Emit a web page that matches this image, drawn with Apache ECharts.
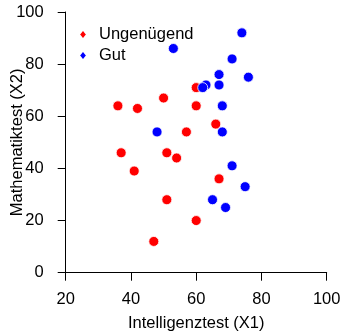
<!DOCTYPE html>
<html>
<head>
<meta charset="utf-8">
<script src="https://cdn.jsdelivr.net/npm/echarts@6/dist/echarts.min.js"></script>
<style>
html,body{margin:0;padding:0;background:#fff;}
#chart{width:342px;height:335px;}
</style>
</head>
<body>
<div id="chart"></div>
<script>
const seriesNames = ["Ungenügend", "Gut"];
const ungenuegendX = [60, 36, 42, 50, 60, 66, 57, 37, 51, 54, 41, 67, 51, 60, 47];
const ungenuegendY = [71, 64, 63, 67, 64, 57, 54, 46, 46, 44, 39, 36, 28, 20, 12];
const gutX = [74, 53, 71, 67, 76, 63, 62, 67, 68, 48, 68, 71, 75, 65, 69];
const gutY = [92, 86, 82, 76, 75, 72, 71, 72, 64, 54, 54, 41, 33, 28, 25];
const xTicks = [20, 40, 60, 80, 100];
const yTicks = [0, 20, 40, 60, 80, 100];
const colors = ["#FF0000", "#0000FF"];

function pairs(xs, ys) { return xs.map((x, i) => [x, ys[i]]); }

const font = "Liberation Sans, Arial, sans-serif";
const fs = 16.5;
const chart = echarts.init(document.getElementById('chart'), null, {renderer: 'canvas'});
chart.setOption({
  animation: false,
  backgroundColor: '#fff',
  grid: {left: 65.7, right: 15.3, top: 12, bottom: 62.3, containLabel: false, outerBoundsMode: 'none'},
  legend: {
    orient: 'vertical',
    left: 78, top: 26, padding: 0,
    itemWidth: 8, itemHeight: 10,
    itemGap: 4,
    icon: 'diamond',
    textStyle: {fontFamily: font, fontSize: fs, color: '#000', padding: [0,0,0,7]},
    data: seriesNames
  },
  xAxis: {
    type: 'value', min: xTicks[0], max: xTicks[xTicks.length-1], interval: 20,
    name: 'Intelligenztest (X1)', nameLocation: 'middle', nameGap: 42, nameMoveOverlap: false,
    nameTextStyle: {fontFamily: font, fontSize: fs, color: '#000'},
    axisLine: {show: true, lineStyle: {color: '#000', width: 1}},
    axisTick: {show: true, length: 8, lineStyle: {color: '#000'}},
    axisLabel: {fontFamily: font, fontSize: fs, color: '#000', margin: 18},
    splitLine: {show: false}
  },
  yAxis: {
    type: 'value', min: yTicks[0], max: yTicks[yTicks.length-1], interval: 20,
    name: 'Mathematiktest (X2)', nameLocation: 'middle', nameGap: 40, nameMoveOverlap: false,
    nameTextStyle: {fontFamily: font, fontSize: fs, color: '#000'},
    axisLine: {show: true, lineStyle: {color: '#000', width: 1}},
    axisTick: {show: true, length: 8, lineStyle: {color: '#000'}},
    axisLabel: {fontFamily: font, fontSize: fs, color: '#000', margin: 22},
    splitLine: {show: false}
  },
  series: [
    {name: seriesNames[0], type: 'scatter', symbol: 'circle', symbolSize: 10,
     itemStyle: {color: colors[0], borderColor: '#fff', borderWidth: 0.8, opacity: 1},
     data: pairs(ungenuegendX, ungenuegendY)},
    {name: seriesNames[1], type: 'scatter', symbol: 'circle', symbolSize: 10,
     itemStyle: {color: colors[1], borderColor: '#fff', borderWidth: 0.8, opacity: 1},
     data: pairs(gutX, gutY)}
  ]
});
</script>
</body>
</html>
